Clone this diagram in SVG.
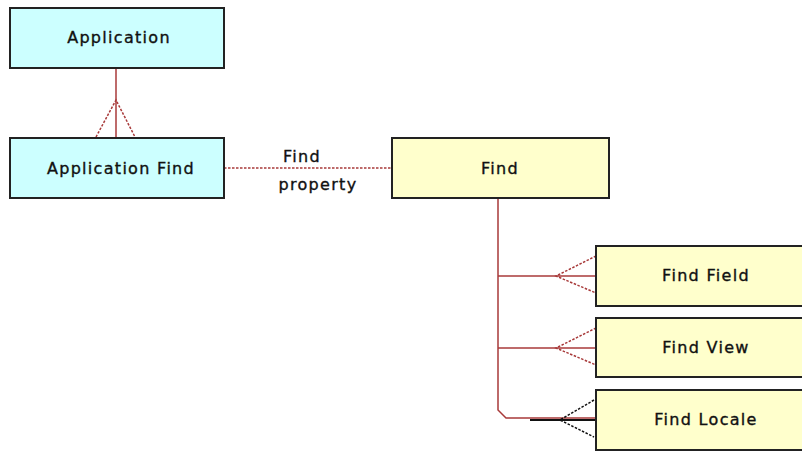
<svg xmlns="http://www.w3.org/2000/svg" width="802" height="451" viewBox="0 0 802 451">
<style>
.cy{fill:#ccffff;stroke:#222;stroke-width:2}
.ye{fill:#ffffcc;stroke:#222;stroke-width:2}
.t{font-family:"DejaVu Sans",sans-serif;font-size:16px;letter-spacing:1.3px;fill:#111;stroke:#111;stroke-width:0.35;text-anchor:middle}
.r{stroke:#a83a3a;stroke-width:1.5;fill:none}
.rd{stroke:#a83a3a;stroke-width:1.5;fill:none;stroke-dasharray:2.5 1.5}
.k{stroke:#111;stroke-width:2;fill:none}
.kd{stroke:#111;stroke-width:1.5;fill:none;stroke-dasharray:2.5 1.5}
</style>
<rect width="802" height="451" fill="#fff"/>
<g id="connectors">
<line class="r" x1="116" y1="68" x2="116" y2="138"/>
<path class="rd" d="M96,137 L116,100 L135,137"/>
<line class="rd" x1="224" y1="168" x2="392" y2="168"/>
<text class="t" x="302" y="162">Find</text>
<text class="t" x="318" y="190">property</text>
<path class="r" d="M498,198 V410 L506,418 H596"/>
<line class="r" x1="498" y1="276" x2="596" y2="276"/>
<path class="rd" d="M596,256 L556,276 L596,293"/>
<line class="r" x1="498" y1="348" x2="596" y2="348"/>
<path class="rd" d="M596,328 L556,348 L596,365"/>
<line class="k" x1="530" y1="420" x2="596" y2="420"/>
<path class="kd" d="M594,400 L560,420 L594,437"/>
</g>
<g id="application"><rect class="cy" x="10" y="8" width="214" height="60"/><text class="t" x="119" y="43">Application</text></g>
<g id="application-find"><rect class="cy" x="10" y="138" width="214" height="60"/><text class="t" x="121" y="174">Application Find</text></g>
<g id="find"><rect class="ye" x="392" y="138" width="217" height="60"/><text class="t" x="500" y="174">Find</text></g>
<g id="find-field"><rect class="ye" x="596" y="246" width="210" height="60"/><text class="t" x="706" y="281">Find Field</text></g>
<g id="find-view"><rect class="ye" x="596" y="318" width="210" height="59"/><text class="t" x="706" y="353">Find View</text></g>
<g id="find-locale"><rect class="ye" x="596" y="390" width="210" height="60"/><text class="t" x="706" y="425">Find Locale</text></g>
</svg>
